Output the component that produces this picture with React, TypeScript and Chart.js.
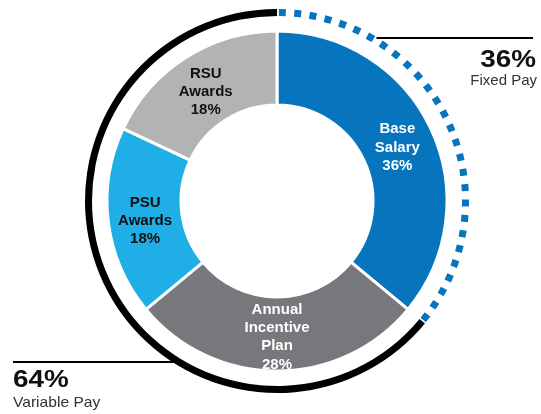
import { useEffect, useRef } from 'react';
import { Chart, registerables } from 'chart.js';

Chart.register(...registerables);

// ---- Data ----
const componentNames = ['Base Salary', 'Annual Incentive Plan', 'PSU Awards', 'RSU Awards'];
const componentLines = [['Base', 'Salary'], ['Annual', 'Incentive', 'Plan'], ['PSU', 'Awards'], ['RSU', 'Awards']];
const componentValues = [36, 28, 18, 18];
const componentColors = ['#0775BD', '#77787B', '#1FAEE5', '#B2B3B5'];
const componentTextColors = ['#ffffff', '#ffffff', '#111111', '#111111'];

const payTypes = ['Fixed Pay', 'Variable Pay'];
const payValues = [36, 64];

const FONT = "'Liberation Sans', Arial, Helvetica, sans-serif";
const BLUE = '#0775BD';

function wideText(ctx: CanvasRenderingContext2D, text: string, x: number, y: number, sx: number, align: 'left' | 'right') {
  ctx.save();
  ctx.translate(x, y);
  ctx.scale(sx, 1);
  ctx.textAlign = align;
  ctx.fillText(text, 0, 0);
  ctx.restore();
}

const overlayPlugin = {
  id: 'overlay',
  afterDatasetsDraw(chart: any) {
    const ctx: CanvasRenderingContext2D = chart.ctx;
    const ringMeta = chart.getDatasetMeta(0);
    const fixedArc = ringMeta.data[0];
    const p = fixedArc.getProps(['x', 'y', 'innerRadius', 'outerRadius', 'startAngle', 'endAngle'], true);
    const cx = p.x;
    const cy = p.y;
    const r = (p.innerRadius + p.outerRadius) / 2;
    const w = p.outerRadius - p.innerRadius;

    ctx.save();
    // dotted fixed-pay arc
    ctx.strokeStyle = BLUE;
    ctx.lineWidth = w;
    ctx.setLineDash([7, 8.4]);
    ctx.lineCap = 'butt';
    ctx.beginPath();
    ctx.arc(cx, cy, r, p.startAngle + 0.01, p.endAngle);
    ctx.stroke();
    ctx.setLineDash([]);

    // leader lines
    const ro = p.outerRadius;
    const fixedY = 38;
    const varY = 362;
    ctx.strokeStyle = '#000';
    ctx.lineWidth = 2;
    const dxF = Math.sqrt(Math.max(ro * ro - (cy - fixedY) * (cy - fixedY), 0));
    ctx.beginPath();
    ctx.moveTo(cx + dxF - 2, fixedY);
    ctx.lineTo(533, fixedY);
    ctx.stroke();
    const dxV = Math.sqrt(Math.max(ro * ro - (varY - cy) * (varY - cy), 0));
    ctx.beginPath();
    ctx.moveTo(13, varY);
    ctx.lineTo(cx - dxV + 2, varY);
    ctx.stroke();

    // fixed / variable labels
    ctx.textBaseline = 'alphabetic';
    ctx.fillStyle = '#111';
    ctx.font = `bold 24px ${FONT}`;
    wideText(ctx, `${payValues[0]}%`, 536, 67, 1.16, 'right');
    wideText(ctx, `${payValues[1]}%`, 13, 387, 1.16, 'left');
    ctx.font = `15px ${FONT}`;
    ctx.fillStyle = '#333';
    wideText(ctx, payTypes[0], 537, 85, 1, 'right');
    wideText(ctx, payTypes[1], 13, 407, 1.04, 'left');

    // segment labels
    const mainMeta = chart.getDatasetMeta(2);
    ctx.textAlign = 'center';
    ctx.textBaseline = 'middle';
    ctx.font = `bold 15px ${FONT}`;
    const lh = 18.3;
    mainMeta.data.forEach((arc: any, i: number) => {
      const pos = arc.tooltipPosition(true);
      const lines = [...componentLines[i], `${componentValues[i]}%`];
      const startY = pos.y + 3 - ((lines.length - 1) * lh) / 2;
      ctx.fillStyle = componentTextColors[i];
      lines.forEach((ln, j) => ctx.fillText(ln, pos.x, startY + j * lh));
    });
    ctx.restore();
  },
};

export default function App() {
  const ref = useRef<HTMLCanvasElement | null>(null);
  useEffect(() => {
    if (!ref.current) return;
    const chart = new Chart(ref.current, {
      type: 'doughnut',
      data: {
        labels: componentNames,
        datasets: [
          {
            label: 'Pay type',
            data: payValues,
            backgroundColor: ['rgba(0,0,0,0)', '#000000'],
            borderWidth: 0,
            weight: 7,
          } as any,
          {
            label: 'spacer',
            data: [1],
            backgroundColor: ['rgba(0,0,0,0)'],
            borderWidth: 0,
            weight: 15,
          } as any,
          {
            label: 'Components',
            data: componentValues,
            backgroundColor: componentColors,
            borderColor: '#ffffff',
            borderWidth: 3,
            weight: 74,
          } as any,
        ],
      },
      options: {
        responsive: false,
        animation: false,
        devicePixelRatio: 1,
        events: [],
        radius: 192,
        cutout: '50%',
        layout: { padding: { left: 82, right: 69, top: 6, bottom: 18 } },
        plugins: {
          legend: { display: false },
          tooltip: { enabled: false },
        },
      } as any,
      plugins: [overlayPlugin],
    });
    return () => chart.destroy();
  }, []);
  return (
    <div style={{ position: 'absolute', left: 0, top: 0, width: 541, height: 414 }}>
      <canvas ref={ref} width={541} height={414} />
    </div>
  );
}
